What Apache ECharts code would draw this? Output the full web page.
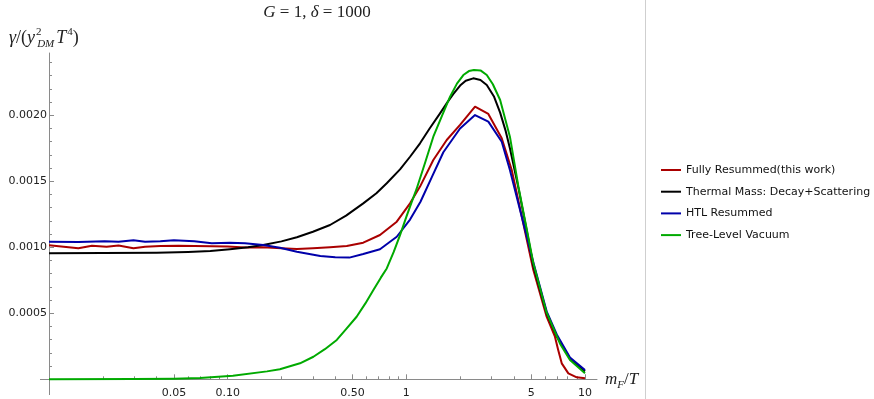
<!DOCTYPE html>
<html><head><meta charset="utf-8">
<script src="https://cdn.jsdelivr.net/npm/echarts@6/dist/echarts.min.js"></script>
<style>html,body{margin:0;padding:0;background:#fff}#c{width:874px;height:399px}</style>
</head><body><div id="c"></div>
<script>
// ---- data (x = m_F/T, y = gamma/(y_DM^2 T^4)) ----
const seriesNames = ['Fully Resummed(this work)', 'Thermal Mass: Decay+Scattering', 'HTL Resummed', 'Tree-Level Vacuum'];

const redX = [0.01, 0.0146, 0.0174, 0.0210, 0.0245, 0.0297, 0.0345, 0.042, 0.053, 0.065, 0.0815, 0.1, 0.125, 0.158, 0.20, 0.244, 0.30, 0.374, 0.464, 0.574, 0.712, 0.884, 1.049, 1.193, 1.416, 1.683, 1.998, 2.424, 2.877, 3.42, 3.89, 5.14, 6.10, 6.79, 7.08, 7.41, 8.07, 8.99, 10];
const redY = [0.001015, 0.000993, 0.001012, 0.001005, 0.001013, 0.000993, 0.001005, 0.001010, 0.001012, 0.001010, 0.001008, 0.001007, 0.000998, 0.001000, 0.000992, 0.000987, 0.000992, 0.001000, 0.001010, 0.001035, 0.001093, 0.001194, 0.001333, 0.001460, 0.001661, 0.001813, 0.001927, 0.002065, 0.002010, 0.001826, 0.001586, 0.000828, 0.000474, 0.000323, 0.000222, 0.000121, 0.000045, 0.000015, 0.000008];

const blackX = [0.01, 0.02, 0.04, 0.06, 0.08, 0.103, 0.13, 0.158, 0.20, 0.244, 0.30, 0.374, 0.46, 0.574, 0.68, 0.777, 0.922, 1.049, 1.193, 1.35, 1.544, 1.70, 1.83, 2.0, 2.15, 2.37, 2.6, 2.82, 3.1, 3.35, 3.60, 3.80, 4.24, 4.7, 5.14, 6.10, 6.95, 8.24, 10];
const blackY = [0.000955, 0.000956, 0.000959, 0.000965, 0.000972, 0.000985, 0.001000, 0.001017, 0.001045, 0.001076, 0.001118, 0.001169, 0.001240, 0.001333, 0.001410, 0.001485, 0.001590, 0.001686, 0.001788, 0.001900, 0.002015, 0.002100, 0.002160, 0.002225, 0.002262, 0.002280, 0.002268, 0.002230, 0.002140, 0.002020, 0.001880, 0.001750, 0.001450, 0.001140, 0.000860, 0.000500, 0.000325, 0.000155, 0.000060];

const blueX = [0.01, 0.0146, 0.0205, 0.0245, 0.0297, 0.0345, 0.042, 0.05, 0.065, 0.0815, 0.103, 0.125, 0.158, 0.196, 0.244, 0.33, 0.40, 0.48, 0.574, 0.712, 0.884, 1.049, 1.20, 1.387, 1.611, 1.998, 2.424, 2.877, 3.42, 3.80, 5.14, 6.10, 6.95, 8.24, 10];
const blueY = [0.001042, 0.001040, 0.001045, 0.001042, 0.001053, 0.001042, 0.001045, 0.001053, 0.001045, 0.001030, 0.001035, 0.001030, 0.001017, 0.000997, 0.000967, 0.000934, 0.000925, 0.000922, 0.000949, 0.000985, 0.001080, 0.001210, 0.001345, 0.001530, 0.001720, 0.001900, 0.002002, 0.001952, 0.001800, 0.001586, 0.000885, 0.000515, 0.000340, 0.000165, 0.000070];

const greenX = [0.01, 0.03, 0.05, 0.07, 0.107, 0.166, 0.196, 0.254, 0.302, 0.35, 0.408, 0.46, 0.527, 0.59, 0.654, 0.72, 0.777, 0.85, 0.922, 1.0, 1.07, 1.14, 1.28, 1.416, 1.6, 1.757, 1.92, 2.085, 2.24, 2.39, 2.6, 2.82, 3.05, 3.35, 3.80, 4.24, 4.7, 5.14, 6.10, 7.25, 8.24, 10];
const greenY = [0.0000005, 0.000002, 0.000005, 0.00001, 0.000027, 0.00006, 0.000076, 0.000121, 0.000171, 0.000228, 0.000298, 0.000380, 0.000474, 0.000575, 0.000677, 0.000770, 0.00084, 0.000965, 0.001093, 0.00123, 0.00134, 0.00144, 0.00165, 0.001838, 0.002010, 0.002141, 0.002240, 0.002305, 0.002335, 0.002343, 0.002340, 0.002305, 0.002235, 0.002116, 0.001838, 0.001459, 0.001150, 0.000879, 0.000505, 0.00027, 0.000146, 0.000045];

// ---- ticks ----
const xMajorTicks = [0.05, 0.1, 0.5, 1, 5, 10];
const xMajorLabels = ['0.05', '0.10', '0.50', '1', '5', '10'];
const xMinorTicks = [0.02, 0.03, 0.04, 0.06, 0.07, 0.08, 0.09, 0.2, 0.3, 0.4, 0.6, 0.7, 0.8, 0.9, 2, 3, 4, 6, 7, 8, 9];
const yMajorTicks = [0.0005, 0.0010, 0.0015, 0.0020];
const yMajorLabels = ['0.0005', '0.0010', '0.0015', '0.0020'];
const yMinorTicks = [0.0001, 0.0002, 0.0003, 0.0004, 0.0006, 0.0007, 0.0008, 0.0009, 0.0011, 0.0012, 0.0013, 0.0014, 0.0016, 0.0017, 0.0018, 0.0019, 0.0021, 0.0022, 0.0023, 0.0024];

const colors = ['#aa0000', '#000000', '#0000aa', '#00aa00'];
const lg = Math.log10;
const toData = (xs, ys) => xs.map((x, i) => [lg(x), ys[i]]);

const xMin = -2, xMax = 1.0672;
const yMin = 0, yMax = 0.002472;
const axisGray = '#8a8a8a';

const chart = echarts.init(document.getElementById('c'), null, {renderer: 'canvas'});
const baseX = {type: 'value', min: xMin, max: xMax, position: 'bottom', splitLine: {show: false}};
const baseY = {type: 'value', min: yMin, max: yMax, position: 'left', splitLine: {show: false}};
chart.setOption({
  animation: false,
  backgroundColor: '#fff',
  grid: {left: 49, right: 277, top: 53, bottom: 19.7, outerBoundsMode: 'none'},
  xAxis: [
    Object.assign({}, baseX, {
      axisLine: {show: true, onZero: false, lineStyle: {color: axisGray, width: 1}},
      axisTick: {show: true, inside: true, length: 5, customValues: xMajorTicks.map(lg), lineStyle: {color: axisGray}},
      axisLabel: {show: true, customValues: xMajorTicks.map(lg), margin: 8, fontFamily: 'DejaVu Sans', fontSize: 11, color: '#222',
        formatter: v => { const i = xMajorTicks.findIndex(t => Math.abs(lg(t) - v) < 1e-6); return i >= 0 ? xMajorLabels[i] : ''; }}
    }),
    Object.assign({}, baseX, {
      axisLine: {show: false, onZero: false},
      axisTick: {show: true, inside: true, length: 3, customValues: xMinorTicks.map(lg), lineStyle: {color: axisGray}},
      axisLabel: {show: false}
    })
  ],
  yAxis: [
    Object.assign({}, baseY, {
      axisLine: {show: true, onZero: false, lineStyle: {color: axisGray, width: 1}},
      axisTick: {show: true, inside: true, length: 5, customValues: yMajorTicks, lineStyle: {color: axisGray}},
      axisLabel: {show: true, customValues: yMajorTicks, margin: 2, fontFamily: 'DejaVu Sans', fontSize: 11, color: '#222',
        formatter: v => { const i = yMajorTicks.findIndex(t => Math.abs(t - v) < 1e-9); return i >= 0 ? yMajorLabels[i] : ''; }}
    }),
    Object.assign({}, baseY, {
      axisLine: {show: false, onZero: false},
      axisTick: {show: true, inside: true, length: 3, customValues: yMinorTicks, lineStyle: {color: axisGray}},
      axisLabel: {show: false}
    })
  ],
  legend: {
    orient: 'vertical', left: 661, top: 163.5, padding: 0, itemGap: 8.7,
    icon: 'rect', itemWidth: 20, itemHeight: 2,
    textStyle: {fontFamily: 'DejaVu Sans', fontSize: 11, color: '#111', lineHeight: 13},
    data: seriesNames
  },
  series: [
    {name: seriesNames[0], data: toData(redX, redY), color: colors[0]},
    {name: seriesNames[1], data: toData(blackX, blackY), color: colors[1]},
    {name: seriesNames[2], data: toData(blueX, blueY), color: colors[2]},
    {name: seriesNames[3], data: toData(greenX, greenY), color: colors[3]}
  ].map(s => Object.assign({type: 'line', xAxisIndex: 0, yAxisIndex: 0, symbol: 'none', showSymbol: false, clip: false,
      lineStyle: {width: 2, color: s.color, join: 'round'}, emphasis: {disabled: true}}, s)),
  graphic: [
    {type: 'line', shape: {x1: 645.5, y1: 0, x2: 645.5, y2: 399}, style: {stroke: '#cfcfcf', lineWidth: 1}, silent: true},
    {type: 'line', shape: {x1: 49.5, y1: 379.3, x2: 49.5, y2: 395}, style: {stroke: axisGray, lineWidth: 1}, silent: true},
    {type: 'line', shape: {x1: 40, y1: 379.5, x2: 49, y2: 379.5}, style: {stroke: axisGray, lineWidth: 1}, silent: true},
    {type: 'text', x: 317, y: 13, style: {
      text: '{i|G} = 1, {i|δ} = 1000', align: 'center', verticalAlign: 'middle',
      font: '17px "Liberation Serif"', fill: '#222',
      rich: {i: {fontStyle: 'italic', fontFamily: 'Liberation Serif', fontSize: 17}, n: {fontFamily: 'Liberation Serif', fontSize: 17}}
    }},
    {type: 'text', x: 9, y: 38, style: {
      text: '{i|γ}{n|/(}{i|y}{s2|2}{sub|DM}{i|T}{sup|4}{n|)}', align: 'left', verticalAlign: 'middle',
      font: '18px "Liberation Serif"', fill: '#222',
      rich: {
        i: {fontStyle: 'italic', fontFamily: 'Liberation Serif', fontSize: 18, lineHeight: 24},
        n: {fontFamily: 'Liberation Serif', fontSize: 18, lineHeight: 24},
        s2: {fontFamily: 'Liberation Serif', fontSize: 11, verticalAlign: 'top', lineHeight: 24, width: 0.1, padding: [1, 0, 0, 1]},
        sup: {fontFamily: 'Liberation Serif', fontSize: 11, verticalAlign: 'top', lineHeight: 24, padding: [1, 0, 0, 1]},
        sub: {fontStyle: 'italic', fontFamily: 'Liberation Serif', fontSize: 11, verticalAlign: 'bottom', lineHeight: 24, padding: [0, 2, 0, 1]}
      }
    }},
    {type: 'text', x: 605, y: 380, style: {
      text: '{i|m}{sub|F}{n|/}{i|T}', align: 'left', verticalAlign: 'middle',
      font: '17px "Liberation Serif"', fill: '#222',
      rich: {
        i: {fontStyle: 'italic', fontFamily: 'Liberation Serif', fontSize: 17, lineHeight: 22},
        n: {fontFamily: 'Liberation Serif', fontSize: 17, lineHeight: 22},
        sub: {fontStyle: 'italic', fontFamily: 'Liberation Serif', fontSize: 11, verticalAlign: 'bottom', lineHeight: 22}
      }
    }}
  ]
});
</script>
</body></html>
